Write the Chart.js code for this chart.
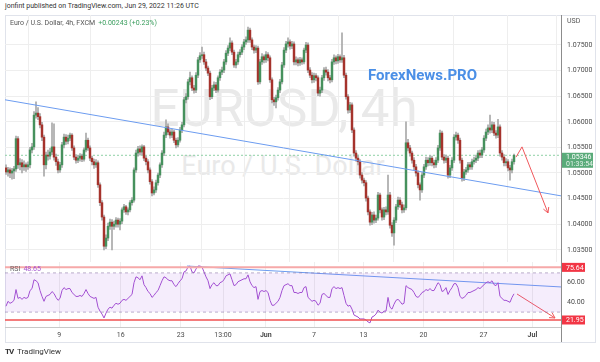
<!DOCTYPE html>
<html>
<head>
<meta charset="utf-8">
<script src="https://cdn.jsdelivr.net/npm/chart.js@4.4.0/dist/chart.umd.min.js"></script>
<style>
    body { margin: 0; width: 600px; height: 362px; background: #fff; position: relative; overflow: hidden; font-family: Roboto, Arial, sans-serif; }
    .abs { position: absolute; white-space: nowrap; }
    canvas { position: absolute; left: 0; }
    #frame { left: 5px; top: 15px; width: 589px; height: 326px; border: 1px solid #e0e3eb; }
    #credit { left: 5px; top: 2px; font-size: 7px; color: #333; }
    #legend { left: 10px; top: 19px; font-size: 7px; color: #555; }
    #legend .chg { color: #3a9d5d; margin-left: 3px; }
    #usd { left: 567px; top: 17px; font-size: 7px; color: #555; }
    #rsiLegend { left: 10px; top: 265px; font-size: 7px; color: #666; }
    #rsiLegend .val { color: #a24fd0; margin-left: 3px; }
    #wm1 { left: 84px; width: 400px; top: 79px; text-align: center; font-size: 51px; color: #e9e9e9; }
    #wm2 { left: 133px; width: 300px; top: 150px; text-align: center; font-size: 27px; color: #e9e9e9; }
    #brand { left: 368px; top: 66px; font-size: 15px; font-weight: bold; color: #4b8fe6; }
    #footer { left: 5px; top: 347px; font-size: 8px; color: #333; }
    #footer b { font-size: 8px; margin-right: 2px; letter-spacing: -1px; }
    #axisLine { left: 561px; top: 15px; width: 1px; height: 327px; background: #8c8c8c; }
    #timeLine { left: 5px; top: 327px; width: 556px; height: 1px; background: #c8c8c8; }
</style>
</head>
<body>
<div id="frame" class="abs"></div>
<div id="wm1" class="abs">EURUSD, 4h</div>
<div id="wm2" class="abs">Euro / U.S. Dollar</div>
<canvas id="priceChart" width="600" height="247" style="top:15px"></canvas>
<canvas id="rsiChart" width="600" height="83" style="top:262px"></canvas>
<div id="axisLine" class="abs"></div>
<div id="timeLine" class="abs"></div>
<div id="credit" class="abs">jonfint published on TradingView.com, Jun 29, 2022 11:26 UTC</div>
<div id="legend" class="abs">Euro / U.S. Dollar, 4h, FXCM<span class="chg">+0.00243 (+0.23%)</span></div>
<div id="usd" class="abs">USD</div>
<div id="rsiLegend" class="abs">RSI<span class="val">48.65</span></div>
<div id="brand" class="abs">ForexNews.PRO</div>
<div id="footer" class="abs"><b>TV</b> TradingView</div>

<script>
// 4h 蜡烛数据 (EURUSD, FXCM)
const opens = [
    1.0510, 1.0502, 1.0506, 1.0500, 1.0504, 1.0508, 1.0567, 1.0516, 1.0520, 1.0512,
    1.0516, 1.0512, 1.0516, 1.0545, 1.0551, 1.0613, 1.0617, 1.0610, 1.0594, 1.0570,
    1.0516, 1.0535, 1.0533, 1.0541, 1.0551, 1.0531, 1.0522, 1.0506, 1.0516, 1.0555,
    1.0570, 1.0562, 1.0568, 1.0574, 1.0549, 1.0531, 1.0525, 1.0529, 1.0533, 1.0527,
    1.0545, 1.0564, 1.0549, 1.0529, 1.0522, 1.0516, 1.0520, 1.0477, 1.0442, 1.0414,
    1.0357, 1.0373, 1.0396, 1.0404, 1.0396, 1.0400, 1.0408, 1.0400, 1.0406, 1.0428,
    1.0434, 1.0424, 1.0428, 1.0442, 1.0447, 1.0506, 1.0539, 1.0547, 1.0541, 1.0551,
    1.0529, 1.0522, 1.0506, 1.0483, 1.0461, 1.0467, 1.0481, 1.0496, 1.0516, 1.0539,
    1.0574, 1.0590, 1.0580, 1.0574, 1.0580, 1.0564, 1.0555, 1.0564, 1.0584, 1.0594,
    1.0643, 1.0649, 1.0678, 1.0686, 1.0666, 1.0662, 1.0691, 1.0721, 1.0729, 1.0731,
    1.0717, 1.0705, 1.0695, 1.0649, 1.0666, 1.0672, 1.0662, 1.0686, 1.0697, 1.0701,
    1.0717, 1.0734, 1.0744, 1.0754, 1.0736, 1.0711, 1.0717, 1.0731, 1.0736, 1.0746,
    1.0756, 1.0760, 1.0779, 1.0760, 1.0746, 1.0740, 1.0744, 1.0678, 1.0717, 1.0727,
    1.0721, 1.0731, 1.0725, 1.0682, 1.0643, 1.0639, 1.0647, 1.0662, 1.0678, 1.0711,
    1.0740, 1.0752, 1.0756, 1.0748, 1.0752, 1.0717, 1.0721, 1.0715, 1.0721, 1.0717,
    1.0740, 1.0750, 1.0701, 1.0691, 1.0682, 1.0690, 1.0686, 1.0656, 1.0662, 1.0686,
    1.0701, 1.0697, 1.0686, 1.0682, 1.0717, 1.0725, 1.0719, 1.0727, 1.0721, 1.0725,
    1.0691, 1.0649, 1.0623, 1.0633, 1.0584, 1.0539, 1.0529, 1.0522, 1.0496, 1.0486,
    1.0481, 1.0451, 1.0424, 1.0404, 1.0418, 1.0408, 1.0412, 1.0457, 1.0428, 1.0414,
    1.0428, 1.0424, 1.0457, 1.0398, 1.0383, 1.0408, 1.0434, 1.0447, 1.0438, 1.0428,
    1.0432, 1.0559, 1.0549, 1.0539, 1.0525, 1.0512, 1.0500, 1.0477, 1.0467, 1.0496,
    1.0512, 1.0525, 1.0520, 1.0529, 1.0520, 1.0516, 1.0525, 1.0549, 1.0578, 1.0531,
    1.0525, 1.0529, 1.0496, 1.0510, 1.0525, 1.0570, 1.0574, 1.0564, 1.0525, 1.0490,
    1.0502, 1.0506, 1.0516, 1.0512, 1.0522, 1.0525, 1.0529, 1.0539, 1.0535, 1.0545,
    1.0568, 1.0580, 1.0588, 1.0584, 1.0594, 1.0578, 1.0574, 1.0590, 1.0539, 1.0531,
    1.0520, 1.0522, 1.0510, 1.0506, 1.0522
];
const highs = [
    1.0516, 1.0511, 1.0510, 1.0509, 1.0513, 1.0572, 1.0571, 1.0528, 1.0526, 1.0524,
    1.0520, 1.0522, 1.0550, 1.0558, 1.0620, 1.0639, 1.0628, 1.0616, 1.0599, 1.0574,
    1.0541, 1.0545, 1.0548, 1.0598, 1.0596, 1.0537, 1.0527, 1.0521, 1.0560, 1.0576,
    1.0575, 1.0574, 1.0578, 1.0577, 1.0553, 1.0536, 1.0534, 1.0538, 1.0537, 1.0549,
    1.0578, 1.0568, 1.0553, 1.0533, 1.0527, 1.0526, 1.0524, 1.0481, 1.0446, 1.0418,
    1.0379, 1.0402, 1.0410, 1.0409, 1.0406, 1.0413, 1.0412, 1.0411, 1.0432, 1.0439,
    1.0437, 1.0432, 1.0446, 1.0452, 1.0510, 1.0545, 1.0552, 1.0553, 1.0555, 1.0554,
    1.0533, 1.0526, 1.0510, 1.0487, 1.0473, 1.0486, 1.0500, 1.0520, 1.0544, 1.0580,
    1.0604, 1.0596, 1.0585, 1.0586, 1.0584, 1.0568, 1.0569, 1.0589, 1.0599, 1.0648,
    1.0655, 1.0683, 1.0697, 1.0690, 1.0671, 1.0696, 1.0726, 1.0735, 1.0746, 1.0736,
    1.0722, 1.0709, 1.0699, 1.0671, 1.0678, 1.0677, 1.0690, 1.0702, 1.0707, 1.0722,
    1.0739, 1.0749, 1.0764, 1.0758, 1.0740, 1.0722, 1.0736, 1.0741, 1.0751, 1.0761,
    1.0766, 1.0785, 1.0783, 1.0764, 1.0750, 1.0749, 1.0748, 1.0722, 1.0733, 1.0731,
    1.0737, 1.0735, 1.0729, 1.0686, 1.0648, 1.0652, 1.0667, 1.0683, 1.0716, 1.0745,
    1.0757, 1.0764, 1.0760, 1.0757, 1.0756, 1.0727, 1.0725, 1.0726, 1.0725, 1.0744,
    1.0755, 1.0754, 1.0706, 1.0696, 1.0695, 1.0694, 1.0690, 1.0668, 1.0691, 1.0706,
    1.0707, 1.0702, 1.0691, 1.0722, 1.0731, 1.0729, 1.0732, 1.0731, 1.0774, 1.0730,
    1.0695, 1.0653, 1.0638, 1.0637, 1.0588, 1.0544, 1.0533, 1.0526, 1.0501, 1.0490,
    1.0485, 1.0455, 1.0428, 1.0423, 1.0424, 1.0418, 1.0462, 1.0461, 1.0432, 1.0433,
    1.0434, 1.0496, 1.0462, 1.0403, 1.0413, 1.0439, 1.0453, 1.0452, 1.0443, 1.0438,
    1.0600, 1.0566, 1.0554, 1.0543, 1.0530, 1.0517, 1.0504, 1.0481, 1.0501, 1.0517,
    1.0531, 1.0530, 1.0534, 1.0533, 1.0525, 1.0530, 1.0554, 1.0584, 1.0582, 1.0536,
    1.0535, 1.0533, 1.0515, 1.0530, 1.0575, 1.0580, 1.0578, 1.0568, 1.0529, 1.0507,
    1.0511, 1.0521, 1.0521, 1.0527, 1.0531, 1.0535, 1.0544, 1.0545, 1.0550, 1.0573,
    1.0586, 1.0594, 1.0613, 1.0600, 1.0599, 1.0583, 1.0605, 1.0594, 1.0544, 1.0536,
    1.0528, 1.0526, 1.0515, 1.0527, 1.0537
];
const lows = [
    1.0497, 1.0494, 1.0491, 1.0488, 1.0489, 1.0503, 1.0509, 1.0506, 1.0500, 1.0505,
    1.0503, 1.0507, 1.0510, 1.0539, 1.0546, 1.0607, 1.0604, 1.0588, 1.0563, 1.0494,
    1.0508, 1.0525, 1.0527, 1.0536, 1.0525, 1.0515, 1.0500, 1.0501, 1.0511, 1.0549,
    1.0556, 1.0557, 1.0563, 1.0544, 1.0526, 1.0519, 1.0520, 1.0523, 1.0522, 1.0523,
    1.0541, 1.0544, 1.0524, 1.0516, 1.0509, 1.0511, 1.0472, 1.0436, 1.0408, 1.0350,
    1.0352, 1.0368, 1.0390, 1.0350, 1.0390, 1.0394, 1.0394, 1.0389, 1.0401, 1.0423,
    1.0419, 1.0418, 1.0424, 1.0437, 1.0443, 1.0501, 1.0533, 1.0535, 1.0536, 1.0524,
    1.0516, 1.0500, 1.0478, 1.0455, 1.0457, 1.0462, 1.0476, 1.0491, 1.0511, 1.0534,
    1.0569, 1.0575, 1.0568, 1.0569, 1.0559, 1.0549, 1.0551, 1.0560, 1.0579, 1.0590,
    1.0637, 1.0644, 1.0672, 1.0661, 1.0656, 1.0657, 1.0686, 1.0716, 1.0724, 1.0712,
    1.0700, 1.0690, 1.0643, 1.0645, 1.0661, 1.0657, 1.0658, 1.0681, 1.0692, 1.0696,
    1.0712, 1.0729, 1.0739, 1.0731, 1.0706, 1.0705, 1.0712, 1.0726, 1.0731, 1.0741,
    1.0751, 1.0755, 1.0755, 1.0741, 1.0734, 1.0735, 1.0673, 1.0674, 1.0712, 1.0715,
    1.0716, 1.0719, 1.0677, 1.0637, 1.0632, 1.0627, 1.0642, 1.0657, 1.0674, 1.0706,
    1.0735, 1.0746, 1.0742, 1.0743, 1.0711, 1.0711, 1.0709, 1.0710, 1.0712, 1.0713,
    1.0735, 1.0696, 1.0686, 1.0676, 1.0677, 1.0680, 1.0651, 1.0650, 1.0657, 1.0681,
    1.0691, 1.0680, 1.0676, 1.0678, 1.0712, 1.0713, 1.0714, 1.0716, 1.0716, 1.0686,
    1.0644, 1.0617, 1.0618, 1.0579, 1.0533, 1.0523, 1.0516, 1.0490, 1.0480, 1.0475,
    1.0445, 1.0418, 1.0398, 1.0399, 1.0402, 1.0403, 1.0408, 1.0422, 1.0408, 1.0409,
    1.0418, 1.0419, 1.0392, 1.0376, 1.0359, 1.0403, 1.0429, 1.0433, 1.0422, 1.0423,
    1.0428, 1.0543, 1.0533, 1.0519, 1.0506, 1.0494, 1.0471, 1.0447, 1.0462, 1.0491,
    1.0507, 1.0514, 1.0515, 1.0514, 1.0510, 1.0511, 1.0520, 1.0544, 1.0526, 1.0519,
    1.0520, 1.0490, 1.0491, 1.0505, 1.0520, 1.0564, 1.0558, 1.0519, 1.0484, 1.0485,
    1.0497, 1.0501, 1.0507, 1.0507, 1.0517, 1.0520, 1.0524, 1.0530, 1.0530, 1.0540,
    1.0563, 1.0575, 1.0578, 1.0579, 1.0573, 1.0568, 1.0569, 1.0533, 1.0525, 1.0514,
    1.0514, 1.0504, 1.0486, 1.0500, 1.0517
];
const closes = [
    1.0502, 1.0506, 1.0500, 1.0504, 1.0508, 1.0567, 1.0516, 1.0520, 1.0512, 1.0516,
    1.0512, 1.0516, 1.0545, 1.0551, 1.0613, 1.0617, 1.0610, 1.0594, 1.0570, 1.0516,
    1.0535, 1.0533, 1.0541, 1.0551, 1.0531, 1.0522, 1.0506, 1.0516, 1.0555, 1.0570,
    1.0562, 1.0568, 1.0574, 1.0549, 1.0531, 1.0525, 1.0529, 1.0533, 1.0527, 1.0545,
    1.0564, 1.0549, 1.0529, 1.0522, 1.0516, 1.0520, 1.0477, 1.0442, 1.0414, 1.0357,
    1.0373, 1.0396, 1.0404, 1.0396, 1.0400, 1.0408, 1.0400, 1.0406, 1.0428, 1.0434,
    1.0424, 1.0428, 1.0442, 1.0447, 1.0506, 1.0539, 1.0547, 1.0541, 1.0551, 1.0529,
    1.0522, 1.0506, 1.0483, 1.0461, 1.0467, 1.0481, 1.0496, 1.0516, 1.0539, 1.0574,
    1.0590, 1.0580, 1.0574, 1.0580, 1.0564, 1.0555, 1.0564, 1.0584, 1.0594, 1.0643,
    1.0649, 1.0678, 1.0686, 1.0666, 1.0662, 1.0691, 1.0721, 1.0729, 1.0731, 1.0717,
    1.0705, 1.0695, 1.0649, 1.0666, 1.0672, 1.0662, 1.0686, 1.0697, 1.0701, 1.0717,
    1.0734, 1.0744, 1.0754, 1.0736, 1.0711, 1.0717, 1.0731, 1.0736, 1.0746, 1.0756,
    1.0760, 1.0779, 1.0760, 1.0746, 1.0740, 1.0744, 1.0678, 1.0717, 1.0727, 1.0721,
    1.0731, 1.0725, 1.0682, 1.0643, 1.0639, 1.0647, 1.0662, 1.0678, 1.0711, 1.0740,
    1.0752, 1.0756, 1.0748, 1.0752, 1.0717, 1.0721, 1.0715, 1.0721, 1.0717, 1.0740,
    1.0750, 1.0701, 1.0691, 1.0682, 1.0690, 1.0686, 1.0656, 1.0662, 1.0686, 1.0701,
    1.0697, 1.0686, 1.0682, 1.0717, 1.0725, 1.0719, 1.0727, 1.0721, 1.0725, 1.0691,
    1.0649, 1.0623, 1.0633, 1.0584, 1.0539, 1.0529, 1.0522, 1.0496, 1.0486, 1.0481,
    1.0451, 1.0424, 1.0404, 1.0418, 1.0408, 1.0412, 1.0457, 1.0428, 1.0414, 1.0428,
    1.0424, 1.0457, 1.0398, 1.0383, 1.0408, 1.0434, 1.0447, 1.0438, 1.0428, 1.0432,
    1.0559, 1.0549, 1.0539, 1.0525, 1.0512, 1.0500, 1.0477, 1.0467, 1.0496, 1.0512,
    1.0525, 1.0520, 1.0529, 1.0520, 1.0516, 1.0525, 1.0549, 1.0578, 1.0531, 1.0525,
    1.0529, 1.0496, 1.0510, 1.0525, 1.0570, 1.0574, 1.0564, 1.0525, 1.0490, 1.0502,
    1.0506, 1.0516, 1.0512, 1.0522, 1.0525, 1.0529, 1.0539, 1.0535, 1.0545, 1.0568,
    1.0580, 1.0588, 1.0584, 1.0594, 1.0578, 1.0574, 1.0590, 1.0539, 1.0531, 1.0520,
    1.0522, 1.0510, 1.0506, 1.0522, 1.05346
];

// RSI(14) 读数
const rsiValues = [
    36, 41, 39, 40, 42, 53, 44, 45, 43, 45,
    44, 45, 52, 54, 63, 62, 60, 52, 46, 41,
    46, 47, 48, 51, 49, 45, 42, 44, 52, 55,
    53, 54, 54, 50, 48, 46, 46, 47, 46, 49,
    53, 49, 46, 45, 44, 45, 35, 31, 28, 24,
    29, 33, 35, 34, 37, 39, 38, 39, 42, 43,
    42, 44, 46, 48, 60, 66, 65, 63, 67, 58,
    55, 51, 49, 45, 47, 50, 52, 57, 62, 66,
    65, 63, 62, 62, 58, 56, 59, 62, 64, 71,
    72, 76, 77, 71, 70, 74, 77, 77, 76, 71,
    66, 62, 54, 58, 60, 57, 57, 60, 61, 63,
    67, 68, 69, 63, 57, 58, 61, 62, 63, 64,
    64, 68, 61, 57, 55, 56, 43, 51, 52, 51,
    52, 50, 42, 37, 37, 39, 41, 45, 52, 57,
    58, 59, 57, 57, 50, 50, 49, 50, 50, 55,
    56, 45, 43, 41, 42, 41, 37, 39, 48, 49,
    47, 45, 45, 54, 56, 54, 55, 54, 55, 47,
    39, 36, 37, 33, 27, 26, 25, 23, 23, 23,
    22, 20, 19, 25, 26, 28, 32, 30, 29, 31,
    31, 45, 35, 33, 38, 42, 43, 41, 38, 39,
    57, 55, 54, 53, 50, 46, 45, 47, 50, 51,
    53, 52, 54, 52, 52, 56, 60, 58, 51, 52,
    55, 48, 52, 55, 59, 59, 55, 46, 44, 45,
    47, 50, 50, 51, 52, 53, 55, 54, 56, 58,
    60, 61, 60, 62, 58, 57, 60, 46, 44, 42,
    42, 41, 40, 45, 48.65
];

// 时间轴刻度 (按蜡烛序号)
const tickIdx = [26.6, 57.4, 87.4, 108.5, 129.9, 154, 178.7, 208.7, 238.7, 263.2];
const tickLabels = ['9', '16', '23', '13:00', 'Jun', '7', '13', '20', '27', 'Jul'];
const monthLabels = ['Jun', 'Jul'];

const priceTicks = [1.035, 1.040, 1.045, 1.050, 1.055, 1.060, 1.065, 1.070, 1.075];
const rsiTicks = [40, 60];

// 画线 (序号, 价格)
const trendIdx = [-0.5, 278];
const trendPrice = [1.0643, 1.0455];
const arrowIdx = [255, 258, 271];
const arrowPrice = [1.0531, 1.0551, 1.0422];

// RSI 画线
const rsiTrendIdx = [90.5, 278];
const rsiTrendVal = [77, 55.6];
const rsiArrowIdx = [255.5, 274.5];
const rsiArrowVal = [48.5, 24];
const rsiUpper = 70;
const rsiLower = 30;
const rsiHighMark = 75.64;
const rsiLowMark = 21.95;

const lastPrice = closes[closes.length - 1];

Chart.defaults.font.family = 'Roboto, Arial, sans-serif';
Chart.defaults.animation = false;

const UP = '#46915d';
const DOWN = '#a5332c';
const X_MIN = -0.5;
const X_MAX = 278;

/** 两点水平线 */
function hLine(v) {
    return [{ x: X_MIN, y: v }, { x: X_MAX, y: v }];
}

function toPoints(xs, ys) {
    return xs.map((x, i) => ({ x, y: ys[i] }));
}

/** 箭头插件 */
const arrowHeads = {
    id: 'arrowHeads',
    afterDatasetsDraw(chart) {
        const ctx = chart.ctx;
        chart.data.datasets.forEach((ds, di) => {
            if (!ds.arrowHead) return;
            const pts = chart.getDatasetMeta(di).data;
            const a = pts[pts.length - 2];
            const b = pts[pts.length - 1];
            const ang = Math.atan2(b.y - a.y, b.x - a.x);
            const len = 6;
            ctx.save();
            ctx.strokeStyle = ds.borderColor;
            ctx.lineWidth = 1;
            ctx.beginPath();
            ctx.moveTo(b.x - len * Math.cos(ang - 0.5), b.y - len * Math.sin(ang - 0.5));
            ctx.lineTo(b.x, b.y);
            ctx.lineTo(b.x - len * Math.cos(ang + 0.5), b.y - len * Math.sin(ang + 0.5));
            ctx.stroke();
            ctx.restore();
        });
    }
};

/** 价格轴标签框 */
const axisBoxes = {
    id: 'axisBoxes',
    afterDraw(chart, args, opts) {
        const ctx = chart.ctx;
        const left = chart.chartArea.right;
        (opts.boxes || []).forEach(box => {
            const y = chart.scales.y.getPixelForValue(box.value);
            const h = box.sub ? 15 : 9;
            const top = box.sub ? y - 2.5 : y - h / 2;
            ctx.save();
            ctx.fillStyle = box.color;
            ctx.fillRect(left, top, box.width, h);
            ctx.fillStyle = '#fff';
            ctx.font = '7px Roboto, Arial, sans-serif';
            ctx.textBaseline = 'middle';
            ctx.fillText(box.text, left + 4, box.sub ? y + 2 : y + 0.5);
            if (box.sub) {
                ctx.fillStyle = 'rgba(255,255,255,0.85)';
                ctx.fillText(box.sub, left + 4, y + 9);
            }
            ctx.restore();
        });
    }
};

function noPad(s) {
    s.paddingTop = 0;
    s.paddingBottom = 0;
    s.paddingLeft = 0;
    s.paddingRight = 0;
}

const xBase = {
    type: 'linear',
    min: X_MIN,
    max: X_MAX,
    offset: false,
    afterBuildTicks: s => { s.ticks = tickIdx.map(v => ({ value: v })); },
    grid: { color: '#eeeeee', drawTicks: false },
    border: { display: false }
};

// 价格图
new Chart(document.getElementById('priceChart'), {
    type: 'bar',
    data: {
        datasets: [
            {
                type: 'line',
                data: toPoints(arrowIdx, arrowPrice),
                borderColor: '#f0585c',
                borderWidth: 1,
                pointRadius: 0,
                arrowHead: true,
                order: 0
            },
            {
                type: 'line',
                data: toPoints(trendIdx, trendPrice),
                borderColor: '#6c9cf0',
                borderWidth: 1,
                pointRadius: 0,
                order: 1
            },
            {
                type: 'line',
                data: hLine(lastPrice),
                borderColor: '#8fd0a6',
                borderWidth: 1,
                borderDash: [2, 2],
                pointRadius: 0,
                order: 4
            },
            {
                data: closes.map((c, i) => ({ x: i, y: [opens[i], c] })),
                backgroundColor: closes.map((c, i) => c >= opens[i] ? UP : DOWN),
                barThickness: 1.8,
                minBarLength: 1,
                grouped: false,
                order: 2
            },
            {
                data: closes.map((c, i) => ({ x: i, y: [lows[i], highs[i]] })),
                backgroundColor: '#a9a9a9',
                barThickness: 1,
                grouped: false,
                order: 3
            }
        ]
    },
    options: {
        responsive: false,
        layout: { padding: { left: 5, right: 0, top: 0, bottom: 0 } },
        plugins: {
            legend: { display: false },
            tooltip: { enabled: false },
            axisBoxes: {
                boxes: [{ value: lastPrice, text: lastPrice.toFixed(5), sub: '01:33:54', color: '#5aab7a', width: 31 }]
            }
        },
        scales: {
            x: Object.assign({}, xBase, {
                ticks: { display: false },
                afterFit: s => { s.height = 0; noPad(s); }
            }),
            y: {
                position: 'right',
                min: 1.032617,
                max: 1.080859,
                afterBuildTicks: s => { s.ticks = priceTicks.map(v => ({ value: v })); },
                grid: { color: '#eeeeee', drawTicks: false },
                border: { display: false },
                ticks: {
                    padding: 5,
                    color: '#4a4a4a',
                    font: { size: 7 },
                    callback: v => v.toFixed(5)
                },
                afterFit: s => { s.width = 38; noPad(s); }
            }
        }
    },
    plugins: [arrowHeads, axisBoxes]
});

// RSI 图
new Chart(document.getElementById('rsiChart'), {
    type: 'line',
    data: {
        datasets: [
            {
                data: hLine(rsiUpper),
                borderColor: 'rgba(130, 110, 160, 0.55)',
                borderWidth: 1,
                borderDash: [3, 3],
                pointRadius: 0,
                fill: '+1',
                backgroundColor: 'rgba(160, 90, 230, 0.11)'
            },
            {
                data: hLine(rsiLower),
                borderColor: 'rgba(130, 110, 160, 0.55)',
                borderWidth: 1,
                borderDash: [3, 3],
                pointRadius: 0
            },
            {
                data: hLine(rsiHighMark),
                borderColor: '#f6a9a9',
                borderWidth: 2,
                pointRadius: 0
            },
            {
                data: hLine(rsiLowMark),
                borderColor: '#f05050',
                borderWidth: 1.5,
                pointRadius: 0
            },
            {
                data: rsiValues.map((v, i) => ({ x: i, y: v })),
                borderColor: '#a24fd0',
                borderWidth: 1,
                pointRadius: 0
            },
            {
                data: toPoints(rsiTrendIdx, rsiTrendVal),
                borderColor: '#6c9cf0',
                borderWidth: 1,
                pointRadius: 0
            },
            {
                data: toPoints(rsiArrowIdx, rsiArrowVal),
                borderColor: '#f0585c',
                borderWidth: 1,
                pointRadius: 0,
                arrowHead: true
            }
        ]
    },
    options: {
        responsive: false,
        layout: { padding: { left: 5, right: 0, top: 0, bottom: 0 } },
        plugins: {
            legend: { display: false },
            tooltip: { enabled: false },
            axisBoxes: {
                boxes: [
                    { value: rsiHighMark, text: rsiHighMark.toFixed(2), color: '#f23645', width: 23 },
                    { value: rsiLowMark, text: rsiLowMark.toFixed(2), color: '#f23645', width: 23 }
                ]
            }
        },
        scales: {
            x: Object.assign({}, xBase, {
                ticks: {
                    autoSkip: false,
                    maxRotation: 0,
                    padding: 4,
                    color: '#4a4a4a',
                    font: ctx => ({
                        size: 7,
                        weight: monthLabels.includes(tickLabels[ctx.index]) ? 'bold' : 'normal'
                    }),
                    callback: (v, i) => tickLabels[i]
                },
                afterFit: s => { s.height = 18; noPad(s); }
            }),
            y: {
                position: 'right',
                min: 14.8,
                max: 81.12,
                afterBuildTicks: s => { s.ticks = rsiTicks.map(v => ({ value: v })); },
                grid: { display: false, drawTicks: false },
                border: { display: false },
                ticks: {
                    padding: 5,
                    color: '#4a4a4a',
                    font: { size: 7 },
                    callback: v => v.toFixed(2)
                },
                afterFit: s => { s.width = 38; noPad(s); }
            }
        }
    },
    plugins: [arrowHeads, axisBoxes]
});
</script>
</body>
</html>
